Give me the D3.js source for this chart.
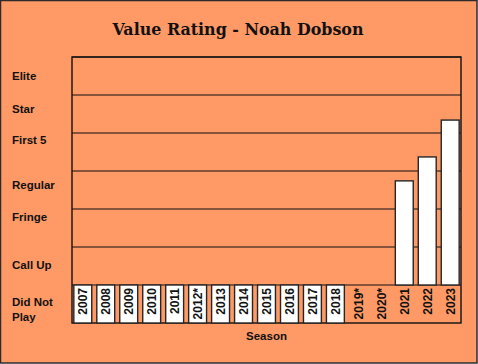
<!DOCTYPE html>
<html lang="en">
<head>
  <meta charset="UTF-8">
  <title>Value Rating - Noah Dobson</title>
  <style>
    body { margin: 0; background: #fff; }
    svg { display: block; }
  </style>
</head>
<body>
  <svg></svg>
  <script src="https://cdn.jsdelivr.net/npm/d3@7"></script>
  <script>
    // seasons on the x axis
    const seasons = ["2007", "2008", "2009", "2010", "2011", "2012*", "2013", "2014",
      "2015", "2016", "2017", "2018", "2019*", "2020*", "2021", "2022", "2023"]
    // -1 = did not play, null = no season shown
    const ratings = [-1, -1, -1, -1, -1, -1, -1, -1, -1, -1, -1, -1, null, null, 2.74, 3.37, 4.34]
    // tiers from bottom up
    const tiers = ["Did Not Play", "Call Up", "Fringe", "Regular", "First 5", "Star", "Elite"]
    const title = "Value Rating - Noah Dobson"
    const xTitle = "Season"

    var width = 478
    var height = 364
    var plotL = 72, plotR = 461, plotT = 57, plotB = 323
    // small vertical nudges so the tier labels sit like the original
    var labelNudge = [0, -1, -11, -5, -12, -5, 0]

    var svg = d3.select("svg")
      .attr("width", width)
      .attr("height", height)

    svg.append("rect")
      .attr("x", 0.5).attr("y", 0.5)
      .attr("width", width - 1.5).attr("height", height - 1.5)
      .attr("fill", "#FF9966")
      .attr("stroke", "#2b2b2b")
      .attr("stroke-width", 1.5)

    var x = d3.scaleBand()
      .domain(seasons)
      .range([plotL, plotR])
      .paddingInner(0.22)
      .paddingOuter(0.08)

    var y = d3.scaleLinear()
      .domain([-1, tiers.length - 1])
      .range([plotB, plotT])

    // gridlines
    svg.append("g")
      .selectAll("line")
      .data(d3.range(0, tiers.length))
      .join("line")
      .attr("x1", plotL).attr("x2", plotR)
      .attr("y1", d => y(d)).attr("y2", d => y(d))
      .attr("stroke", "#111")
      .attr("stroke-width", 1.2)

    // plot frame
    svg.append("rect")
      .attr("x", plotL).attr("y", plotT)
      .attr("width", plotR - plotL).attr("height", plotB - plotT)
      .attr("fill", "none")
      .attr("stroke", "#111")
      .attr("stroke-width", 1.4)

    // bars
    const data = seasons.map((s, i) => ({ season: s, value: ratings[i] }))
    svg.append("g")
      .selectAll("rect")
      .data(data.filter(d => d.value != null))
      .join("rect")
      .attr("x", d => x(d.season))
      .attr("y", d => y(Math.max(0, d.value)))
      .attr("width", x.bandwidth())
      .attr("height", d => Math.abs(y(d.value) - y(0)))
      .attr("fill", "#fff")
      .attr("stroke", "#262626")
      .attr("stroke-width", 1.4)

    // season labels, rotated, inside the lowest band
    svg.append("g")
      .selectAll("text")
      .data(seasons)
      .join("text")
      .attr("transform", d => `translate(${x(d) + x.bandwidth() / 2 + 4.5}, ${y(0) + 3}) rotate(-90)`)
      .attr("text-anchor", "end")
      .attr("font-family", "Liberation Sans, Arial, sans-serif")
      .attr("font-weight", "bold")
      .attr("font-size", 12)
      .attr("fill", "#111")
      .text(d => d)

    // tier labels on the left
    var tierText = svg.append("g")
      .selectAll("text")
      .data(tiers)
      .join("text")
      .attr("x", 12)
      .attr("y", (d, i) => y(i - 0.5) + 4 + labelNudge[i])
      .attr("font-family", "Liberation Sans, Arial, sans-serif")
      .attr("font-weight", "bold")
      .attr("font-size", 11.5)
      .attr("fill", "#111")
    tierText.each(function (d) {
      var words = d === "Did Not Play" ? ["Did Not", "Play"] : [d]
      var t = d3.select(this)
      words.forEach((w, j) => {
        t.append("tspan")
          .attr("x", 12)
          .attr("dy", j === 0 ? (words.length > 1 ? -2 : 0) : 15)
          .text(w)
      })
    })

    // title
    svg.append("text")
      .attr("x", 238)
      .attr("y", 35)
      .attr("text-anchor", "middle")
      .attr("font-family", "DejaVu Serif, serif")
      .attr("font-weight", "bold")
      .attr("font-size", 16)
      .attr("textLength", 251)
      .attr("lengthAdjust", "spacingAndGlyphs")
      .attr("fill", "#111")
      .text(title)

    // x axis title
    svg.append("text")
      .attr("x", (plotL + plotR) / 2)
      .attr("y", 340)
      .attr("text-anchor", "middle")
      .attr("font-family", "Liberation Sans, Arial, sans-serif")
      .attr("font-weight", "bold")
      .attr("font-size", 11.5)
      .attr("fill", "#111")
      .text(xTitle)
  </script>
</body>
</html>
